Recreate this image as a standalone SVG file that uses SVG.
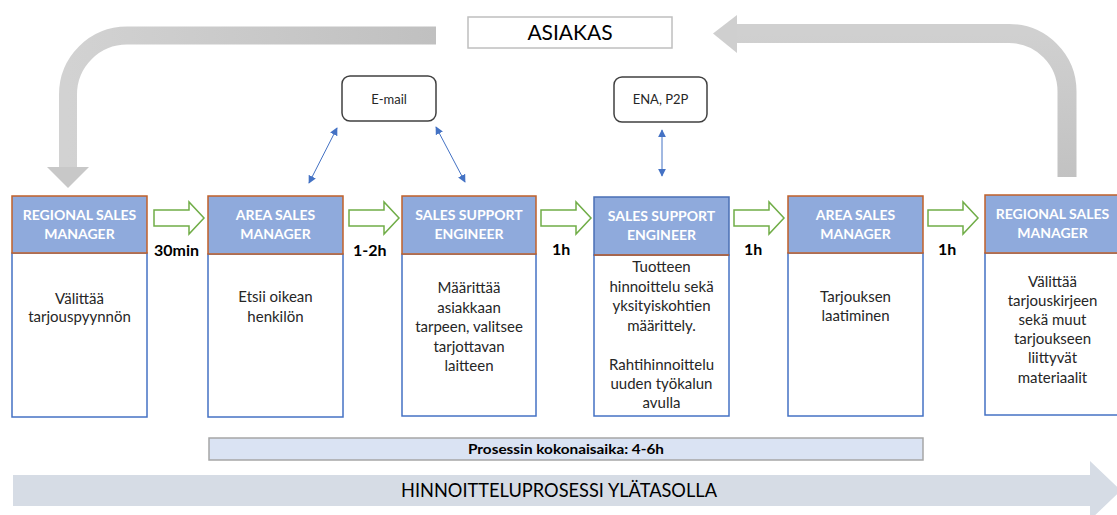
<svg xmlns="http://www.w3.org/2000/svg" width="1117" height="515" viewBox="0 0 1117 515">
  <style>
    .hdr { fill: #8faadc; stroke: #c0602a; stroke-width: 1.5; }
    .body { fill: #ffffff; stroke: #4472c4; stroke-width: 1.5; }
    .htxt { font-family: Lato, "Liberation Sans", sans-serif; font-weight: bold; font-size: 14px; fill: #ffffff; text-anchor: middle; }
    .btxt { font-family: Lato, "Liberation Sans", sans-serif; font-size: 15px; fill: #262626; text-anchor: middle; }
    .time { font-family: Lato, "Liberation Sans", sans-serif; font-weight: bold; font-size: 16px; fill: #000000; }
    .step { fill: #ffffff; stroke: #70ad47; stroke-width: 1.5; stroke-linejoin: miter; }
    .link { stroke: #4472c4; stroke-width: 1; fill: none; marker-start: url(#tri); marker-end: url(#tri); }
    .tool { fill: #ffffff; stroke: #404040; stroke-width: 1.5; }
    .ttxt { font-family: Lato, "Liberation Sans", sans-serif; font-size: 13px; fill: #262626; text-anchor: middle; }
  </style>
  <defs>
    <marker id="tri" viewBox="0 0 10 10" refX="9" refY="5" markerWidth="8" markerHeight="8" markerUnits="userSpaceOnUse" orient="auto-start-reverse">
      <path d="M0 0 L10 5 L0 10 Z" fill="#4472c4"/>
    </marker>
    <linearGradient id="grayL" x1="0" y1="0" x2="1" y2="0">
      <stop offset="0" stop-color="#d2d2d2"/>
      <stop offset="1" stop-color="#c0c0c0"/>
    </linearGradient>
    <linearGradient id="grayR" x1="0" y1="0" x2="0" y2="1">
      <stop offset="0" stop-color="#d0d0d0"/>
      <stop offset="1" stop-color="#c2c2c2"/>
    </linearGradient>
  </defs>

  <!-- customer box -->
  <g id="asiakas">
    <rect x="468" y="17" width="204" height="31" fill="#ffffff" stroke="#bfbfbf" stroke-width="1.5"/>
    <text x="570" y="40" font-family="Lato, 'Liberation Sans', sans-serif" font-size="21" fill="#000000" text-anchor="middle">ASIAKAS</text>
  </g>

  <!-- return flows to/from customer -->
  <g id="customer-flows">
    <path d="M436 35.5 H127 A59 59 0 0 0 68 94.5 V168" fill="none" stroke="url(#grayL)" stroke-width="18"/>
    <polygon points="47,167 89,167 68,188" fill="#c8c8c8"/>
    <path d="M736 33.5 H1009 A58 58 0 0 1 1067 91.5 V177" fill="none" stroke="url(#grayR)" stroke-width="19"/>
    <polygon points="713,33.5 737,15 737,53" fill="#cfcfcf"/>
  </g>

  <!-- tools -->
  <g id="email">
    <rect class="tool" x="342" y="76" width="94" height="45" rx="8"/>
    <text class="ttxt" x="389" y="104">E-mail</text>
  </g>
  <g id="ena">
    <rect class="tool" x="614" y="77" width="93" height="45" rx="8"/>
    <text class="ttxt" x="660.5" y="104">ENA, P2P</text>
  </g>

  <!-- process steps -->
  <g id="step1">
    <rect class="body" x="12" y="253" width="135" height="164"/>
    <rect class="hdr" x="12" y="196" width="135" height="57"/>
    <text class="htxt" x="79.5" y="220">REGIONAL SALES</text>
    <text class="htxt" x="79.5" y="239">MANAGER</text>
    <text class="btxt" x="79.5" y="304">Välittää</text>
    <text class="btxt" x="79.5" y="322">tarjouspyynnön</text>
  </g>
  <g id="step2">
    <rect class="body" x="208" y="254" width="135" height="163"/>
    <rect class="hdr" x="208" y="196" width="135" height="58"/>
    <text class="htxt" x="275.5" y="220">AREA SALES</text>
    <text class="htxt" x="275.5" y="239">MANAGER</text>
    <text class="btxt" x="275.5" y="302">Etsii oikean</text>
    <text class="btxt" x="275.5" y="322">henkilön</text>
  </g>
  <g id="step3">
    <rect class="body" x="402" y="254" width="134" height="162"/>
    <rect class="hdr" x="402" y="196" width="134" height="58"/>
    <text class="htxt" x="469" y="220">SALES SUPPORT</text>
    <text class="htxt" x="469" y="239">ENGINEER</text>
    <text class="btxt" x="469" y="293">Määrittää</text>
    <text class="btxt" x="469" y="313">asiakkaan</text>
    <text class="btxt" x="469" y="332">tarpeen, valitsee</text>
    <text class="btxt" x="469" y="352">tarjottavan</text>
    <text class="btxt" x="469" y="371">laitteen</text>
  </g>
  <g id="step4">
    <rect class="body" x="594" y="255" width="135" height="161"/>
    <rect class="hdr" x="594" y="197" width="135" height="58" style="stroke:#4a6fb5"/>
    <line x1="594" y1="255" x2="729" y2="255" stroke="#c0602a" stroke-width="1.5"/>
    <text class="htxt" x="661.5" y="221">SALES SUPPORT</text>
    <text class="htxt" x="661.5" y="240">ENGINEER</text>
    <text class="btxt" x="661.5" y="272">Tuotteen</text>
    <text class="btxt" x="661.5" y="292">hinnoittelu sekä</text>
    <text class="btxt" x="661.5" y="311">yksityiskohtien</text>
    <text class="btxt" x="661.5" y="331">määrittely.</text>
    <text class="btxt" x="661.5" y="370">Rahtihinnoittelu</text>
    <text class="btxt" x="661.5" y="389">uuden työkalun</text>
    <text class="btxt" x="661.5" y="408">avulla</text>
  </g>
  <g id="step5">
    <rect class="body" x="788" y="253" width="135" height="163"/>
    <rect class="hdr" x="788" y="196" width="135" height="57"/>
    <text class="htxt" x="855.5" y="220">AREA SALES</text>
    <text class="htxt" x="855.5" y="239">MANAGER</text>
    <text class="btxt" x="855.5" y="302">Tarjouksen</text>
    <text class="btxt" x="855.5" y="321">laatiminen</text>
  </g>
  <g id="step6">
    <rect class="body" x="985" y="253" width="135" height="162"/>
    <rect class="hdr" x="985" y="195" width="135" height="58"/>
    <text class="htxt" x="1052.5" y="219">REGIONAL SALES</text>
    <text class="htxt" x="1052.5" y="238">MANAGER</text>
    <text class="btxt" x="1052.5" y="287">Välittää</text>
    <text class="btxt" x="1052.5" y="306">tarjouskirjeen</text>
    <text class="btxt" x="1052.5" y="325">sekä muut</text>
    <text class="btxt" x="1052.5" y="344">tarjoukseen</text>
    <text class="btxt" x="1052.5" y="363">liittyvät</text>
    <text class="btxt" x="1052.5" y="383">materiaalit</text>
  </g>

  <!-- connectors -->
  <g id="connectors">
    <polygon class="step" points="154,210 189,210 189,202 204,218 189,234 189,226 154,226"/>
    <polygon class="step" points="349,210 384,210 384,202 399,218 384,234 384,226 349,226"/>
    <polygon class="step" points="541,210 576,210 576,202 591,218 576,234 576,226 541,226"/>
    <polygon class="step" points="734,210 769,210 769,202 784,218 769,234 769,226 734,226"/>
    <polygon class="step" points="928,210 963,210 963,202 978,218 963,234 963,226 928,226"/>
    <line class="link" x1="337" y1="128" x2="309" y2="183"/>
    <line class="link" x1="436" y1="127" x2="465" y2="182"/>
    <line class="link" x1="662" y1="130" x2="662" y2="176"/>
  </g>

  <!-- step durations -->
  <g id="durations">
    <text class="time" x="154" y="256">30min</text>
    <text class="time" x="353" y="256">1-2h</text>
    <text class="time" x="552" y="255">1h</text>
    <text class="time" x="744" y="255">1h</text>
    <text class="time" x="938" y="255">1h</text>
  </g>

  <!-- total time bar -->
  <g id="total">
    <rect x="209" y="438" width="714" height="22" fill="#dae3f3" stroke="#a6a6a6" stroke-width="1.5"/>
    <text x="566" y="454" font-family="Lato, 'Liberation Sans', sans-serif" font-weight="bold" font-size="13" fill="#000000" text-anchor="middle" textLength="196" lengthAdjust="spacingAndGlyphs">Prosessin kokonaisaika: 4-6h</text>
  </g>

  <!-- overall process arrow -->
  <g id="process">
    <polygon points="13,475 1090,475 1090,461 1121,490.5 1090,520 1090,506 13,506" fill="#d6dce5"/>
    <text x="559" y="497" font-family="Lato, 'Liberation Sans', sans-serif" font-size="19" fill="#000000" text-anchor="middle" textLength="316" lengthAdjust="spacingAndGlyphs">HINNOITTELUPROSESSI YLÄTASOLLA</text>
  </g>
</svg>
